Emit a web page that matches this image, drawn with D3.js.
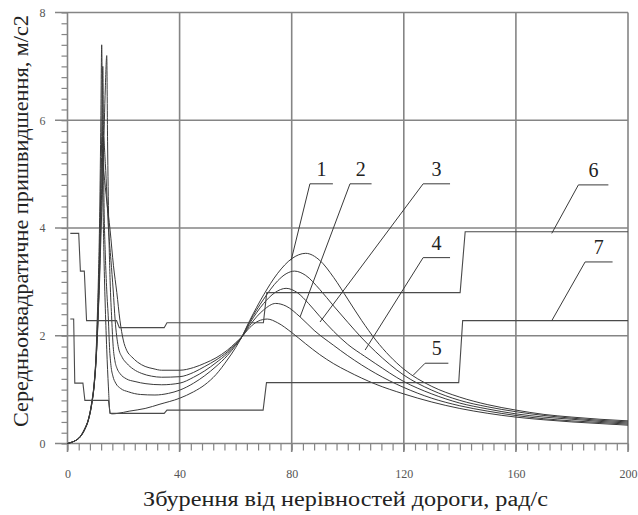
<!DOCTYPE html>
<html>
<head>
<meta charset="utf-8">
<script src="https://cdn.jsdelivr.net/npm/d3@7"></script>
<style>
  body { margin: 0; background: #fff; }
  svg { display: block; }
</style>
</head>
<body>
<div id="chart"></div>
<script>
// Axis ticks
const xTicks = [0, 40, 80, 120, 160, 200];
const yTicks = [0, 2, 4, 6, 8];
const xMinor = d3.range(0, 201, 4);
const yMinor = d3.range(0, 8.01, 0.2);

// Resonance curves, [frequency rad/s, acceleration m/s2]
const series1 = [[0,0],[1,0.015],[2.7,0.05],[4.5,0.13],[6.2,0.28],[7.4,0.44],[8.6,0.75],[9.6,1.18],[10.2,1.67],[10.6,2.29],[11.0,3.0],[11.5,4.3],[11.9,6.0],[12.2,7.4],[12.6,4.8],[13.0,3.5],[13.5,2.5],[14.0,1.75],[14.6,1.05],[15.2,0.56],[16,0.55],[18,0.56],[22,0.6],[27.7,0.65],[33,0.73],[40,0.84],[45,0.96],[49,1.09],[53,1.28],[57,1.55],[60,1.78],[62,1.96],[65,2.28],[70,2.76],[75,3.16],[80,3.43],[85,3.53],[90,3.4],[95,3.08],[100,2.68],[105,2.28],[110,1.92],[120,1.38],[130,1.06],[140,0.86],[150,0.72],[160,0.62],[170,0.54],[180,0.49],[190,0.45],[200,0.42]];
const series2 = [[0,0],[1,0.015],[2.7,0.05],[4.5,0.13],[6.2,0.28],[7.4,0.44],[8.6,0.74],[9.6,1.16],[10.2,1.64],[10.7,2.3],[11.2,3.1],[11.7,4.2],[12.2,5.7],[12.6,7.0],[13.0,4.6],[13.5,3.5],[14.0,2.85],[14.6,2.29],[15.0,1.78],[15.5,1.45],[16.2,1.25],[17.2,1.12],[19,1.02],[21.7,0.96],[26,0.91],[31.2,0.9],[36,0.93],[40,0.99],[45,1.12],[49,1.26],[53,1.43],[57,1.63],[60,1.82],[62,1.96],[65,2.26],[70,2.68],[75,3.02],[78,3.15],[81,3.2],[85,3.12],[90,2.86],[95,2.55],[100,2.25],[105,1.96],[110,1.7],[120,1.27],[130,0.99],[140,0.8],[150,0.68],[160,0.59],[170,0.52],[180,0.47],[190,0.43],[200,0.4]];
const series3 = [[0,0],[1,0.015],[2.7,0.05],[4.5,0.12],[6.2,0.27],[7.4,0.43],[8.6,0.72],[9.6,1.13],[10.3,1.62],[10.8,2.2],[11.4,2.95],[12.0,3.96],[12.8,5.3],[13.5,6.6],[14.0,7.2],[14.3,5.6],[14.7,4.1],[15.2,3.03],[15.8,2.29],[16.3,1.8],[16.9,1.54],[17.7,1.39],[18.7,1.3],[21,1.2],[24.1,1.15],[28,1.11],[33.6,1.09],[40,1.12],[45,1.23],[49,1.35],[53,1.5],[57,1.67],[60,1.84],[62,1.96],[65,2.23],[70,2.6],[74,2.8],[78,2.88],[82,2.8],[86,2.6],[90,2.36],[95,2.08],[100,1.84],[106,1.62],[110,1.48],[120,1.15],[130,0.92],[140,0.75],[150,0.64],[160,0.55],[170,0.49],[180,0.45],[190,0.41],[200,0.38]];
const series4 = [[0,0],[1,0.015],[2.7,0.05],[4.5,0.12],[6.2,0.27],[7.4,0.43],[8.6,0.72],[9.6,1.13],[10.3,1.65],[10.8,2.25],[11.4,3.1],[12.0,4.3],[12.8,5.7],[13.5,5.2],[14.6,4.0],[15.5,3.4],[16.3,2.85],[17.0,2.29],[18.1,1.8],[19.5,1.6],[21.1,1.49],[23.5,1.38],[26.5,1.3],[30,1.25],[33.6,1.23],[40,1.24],[45,1.32],[49,1.43],[53,1.55],[57,1.7],[60,1.85],[62,1.96],[65,2.19],[70,2.48],[74.3,2.6],[78,2.55],[83,2.35],[88,2.1],[95,1.82],[100,1.63],[110,1.3],[120,1.04],[130,0.84],[140,0.7],[150,0.6],[160,0.52],[170,0.46],[180,0.42],[190,0.39],[200,0.36]];
const series5 = [[0,0],[1,0.015],[2.7,0.05],[4.5,0.12],[6.2,0.26],[7.4,0.42],[8.6,0.71],[9.6,1.12],[10.3,1.65],[10.9,2.3],[11.5,3.5],[12.2,5.3],[13.0,5.0],[14.0,4.5],[15.2,3.96],[16.4,3.3],[17.6,2.8],[18.7,2.29],[19.9,1.92],[21.2,1.72],[22.9,1.61],[25,1.51],[27.7,1.43],[30.5,1.39],[33.6,1.36],[40,1.36],[45,1.41],[49,1.49],[53,1.59],[57,1.73],[60,1.87],[62,1.97],[65,2.15],[68,2.27],[71.3,2.31],[75,2.24],[80,2.06],[85,1.85],[90,1.65],[95,1.48],[100,1.34],[110,1.1],[120,0.92],[130,0.77],[140,0.65],[150,0.56],[160,0.49],[170,0.44],[180,0.4],[190,0.37],[200,0.34]];

// Step lines (6 and 7)
const line6 = [[1,3.9],[4.0,3.9],[4.6,3.2],[6.0,3.2],[6.8,2.28],[17.5,2.28],[18.5,2.15],[34.5,2.15],[35.5,2.24],[69.9,2.24],[71.1,2.8],[140.1,2.8],[141.9,3.93],[200,3.93]];
const line7 = [[1,2.31],[2.2,2.31],[2.6,1.12],[5.5,1.12],[6.2,0.8],[14.6,0.8],[15.2,0.56],[34.5,0.56],[35.5,0.62],[69.8,0.62],[71,1.13],[139.6,1.13],[141,2.28],[200,2.28]];

// Callout labels: text, curve point, knee, end of underline
const labelText = ['1', '2', '3', '4', '5', '6', '7'];
const labelPoint = [[79.8,3.40],[83.0,2.35],[90.1,2.255],[106.2,1.735],[123.4,1.27],[172.8,3.90],[172.8,2.28]];
const labelKnee = [[86.5,4.82],[100.8,4.82],[126.9,4.82],[126.9,3.45],[127.6,1.49],[182.3,4.80],[184.7,3.37]];
const labelEnd = [[94.7,4.82],[108.5,4.82],[136.5,4.82],[136.5,3.45],[135.9,1.49],[193.0,4.80],[194.5,3.37]];

const width = 638, height = 515;
const margin = { top: 12.5, right: 10, bottom: 71.5, left: 67.5 };
const W = width - margin.left - margin.right;
const H = height - margin.top - margin.bottom;

const svg = d3.select('#chart').append('svg')
    .attr('width', width)
    .attr('height', height);

const g = svg.append('g')
    .attr('transform', `translate(${margin.left},${margin.top})`);

const x = d3.scaleLinear().domain([0, 200]).range([0, W]);
const y = d3.scaleLinear().domain([0, 8]).range([H, 0]);

const gridColor = '#858585';
const serif = '"Liberation Serif", "DejaVu Serif", serif';

// Grid lines
g.append('g').selectAll('line')
    .data(yTicks)
    .join('line')
    .attr('x1', -12.5).attr('x2', W)
    .attr('y1', d => y(d)).attr('y2', d => y(d))
    .attr('stroke', gridColor)
    .attr('stroke-width', 1.6);

g.append('g').selectAll('line')
    .data(xTicks)
    .join('line')
    .attr('x1', d => x(d)).attr('x2', d => x(d))
    .attr('y1', 0).attr('y2', H + 8.5)
    .attr('stroke', gridColor)
    .attr('stroke-width', 1.6);

// Minor ticks
const xMinorAxis = g.append('g')
    .attr('transform', `translate(0,${H})`)
    .call(d3.axisBottom(x).tickValues(xMinor).tickSize(7).tickFormat(''));
xMinorAxis.select('.domain').remove();
xMinorAxis.selectAll('line').attr('stroke', gridColor).attr('stroke-width', 1.2);

const yMinorAxis = g.append('g')
    .call(d3.axisLeft(y).tickValues(yMinor).tickSize(6).tickFormat(''));
yMinorAxis.select('.domain').remove();
yMinorAxis.selectAll('line').attr('stroke', gridColor).attr('stroke-width', 1.2);

// Tick labels
const xAxis = g.append('g')
    .attr('transform', `translate(0,${H})`)
    .call(d3.axisBottom(x).tickValues(xTicks).tickSize(0).tickPadding(26));
xAxis.select('.domain').remove();
xAxis.selectAll('text')
    .attr('font-family', serif)
    .attr('font-size', 12)
    .attr('fill', '#555');

const yAxis = g.append('g')
    .call(d3.axisLeft(y).tickValues(yTicks).tickSize(0).tickPadding(22));
yAxis.select('.domain').remove();
yAxis.selectAll('text')
    .attr('font-family', serif)
    .attr('font-size', 12)
    .attr('fill', '#555');

// Curves
const smooth = d3.line()
    .x(d => x(d[0]))
    .y(d => y(d[1]))
    .curve(d3.curveMonotoneX);

const straight = d3.line()
    .x(d => x(d[0]))
    .y(d => y(d[1]));

g.append('g').selectAll('path')
    .data([series1, series2, series3, series4, series5])
    .join('path')
    .attr('d', smooth)
    .attr('fill', 'none')
    .attr('stroke', '#3a3a3a')
    .attr('stroke-width', 1);

g.append('g').selectAll('path')
    .data([line6, line7])
    .join('path')
    .attr('d', straight)
    .attr('fill', 'none')
    .attr('stroke', '#4a4a4a')
    .attr('stroke-width', 1.1);

// Callouts
const callouts = g.append('g')
    .selectAll('g')
    .data(labelText.map((t, i) => ({ t, p: labelPoint[i], k: labelKnee[i], e: labelEnd[i] })))
    .join('g');

callouts.append('path')
    .attr('d', d => straight([d.p, d.k, d.e]))
    .attr('fill', 'none')
    .attr('stroke', '#3a3a3a')
    .attr('stroke-width', 1);

callouts.append('text')
    .attr('x', d => (x(d.k[0]) + x(d.e[0])) / 2)
    .attr('y', d => y(d.k[1]) - 8)
    .attr('text-anchor', 'middle')
    .attr('font-family', serif)
    .attr('font-size', 20)
    .attr('fill', '#222')
    .text(d => d.t);

// Axis titles
svg.append('text')
    .attr('x', 345.5)
    .attr('y', 506)
    .attr('text-anchor', 'middle')
    .attr('font-family', serif)
    .attr('font-size', 20)
    .attr('textLength', 405)
    .attr('lengthAdjust', 'spacingAndGlyphs')
    .attr('fill', '#222')
    .text('Збурення від нерівностей дороги, рад/с');

svg.append('text')
    .attr('transform', 'translate(28,221) rotate(-90)')
    .attr('text-anchor', 'middle')
    .attr('font-family', serif)
    .attr('font-size', 20)
    .attr('textLength', 412)
    .attr('lengthAdjust', 'spacingAndGlyphs')
    .attr('fill', '#222')
    .text('Середньоквадратичне пришвидшення, м/с2');
</script>
</body>
</html>
